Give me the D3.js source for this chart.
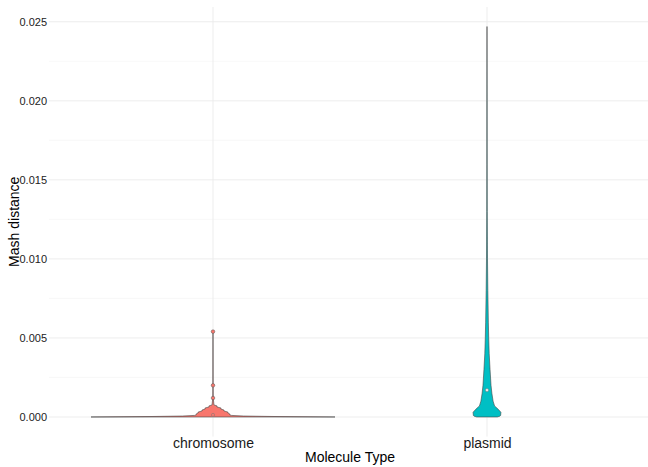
<!DOCTYPE html>
<html>
<head>
<meta charset="utf-8">
<script src="https://cdn.jsdelivr.net/npm/d3@7"></script>
<style>
  body { margin: 0; background: #fff; }
  text { font-family: "Liberation Sans", Arial, sans-serif; }
</style>
</head>
<body>
<div id="vis"></div>
<script>
// categories
var categories = ["chromosome", "plasmid"]
var colors = ["#F8766D", "#00BFC4"]

// violin outlines: value -> relative density (chromosome peak = 1)
var chromValues  = [0, 0.00003, 0.00006, 0.0001, 0.00013, 0.00019, 0.00025, 0.00031, 0.00038, 0.00044, 0.0005, 0.00057, 0.00063, 0.0007, 0.00076, 0.0012, 0.002, 0.0054]
var chromDensity = [1.0, 0.5, 0.25, 0.15, 0.138, 0.138, 0.122, 0.122, 0.09, 0.09, 0.065, 0.065, 0.033, 0.033, 0.008, 0.002, 0.001, 0.0005]

var plasValues  = [0, 0.00005, 0.0001, 0.0003, 0.0005, 0.0007, 0.001, 0.0015, 0.002, 0.003, 0.004, 0.005, 0.006, 0.008, 0.01, 0.013, 0.016, 0.02, 0.0247]
var plasDensity = [0.085, 0.105, 0.112, 0.114, 0.09, 0.062, 0.05, 0.04, 0.033, 0.025, 0.018, 0.014, 0.011, 0.007, 0.004, 0.002, 0.0012, 0.0008, 0]

// extra points
var chromOutliers = [0.0054, 0.002, 0.0012]
var medians = [0.00013, 0.0017]

var yTicks = [0, 0.005, 0.01, 0.015, 0.02, 0.025]
var yMinor = [0.0025, 0.0075, 0.0125, 0.0175, 0.0225]

var width = 648, height = 467
var pLeft = 49, pRight = 651, pTop = 7, pBottom = 436.5

var x = d3.scalePoint()
  .domain(categories)
  .range([213, 487])

var y = d3.scaleLinear()
  .domain([-0.001235, 0.025935])
  .range([pBottom, pTop])

var w = d3.scaleLinear()
  .domain([0, 1])
  .range([0, 122])

var svg = d3.select("#vis")
  .append("svg")
  .attr("width", width)
  .attr("height", height)

// grid
svg.selectAll(".minor").data(yMinor).enter().append("line")
  .attr("x1", pLeft).attr("x2", pRight)
  .attr("y1", d => y(d)).attr("y2", d => y(d))
  .style("stroke", "#f4f4f4").style("stroke-width", "0.6px")

svg.selectAll(".major").data(yTicks).enter().append("line")
  .attr("x1", pLeft).attr("x2", pRight)
  .attr("y1", d => y(d)).attr("y2", d => y(d))
  .style("stroke", "#ebebeb").style("stroke-width", "0.9px")

svg.selectAll(".vgrid").data(categories).enter().append("line")
  .attr("x1", d => x(d)).attr("x2", d => x(d))
  .attr("y1", pTop).attr("y2", pBottom)
  .style("stroke", "#ebebeb").style("stroke-width", "0.9px")

// violins
function violin(vals, dens, cat, color) {
  var pts = vals.map((v, i) => [v, dens[i]])
  var area = d3.area()
    .y(d => y(d[0]))
    .x0(d => x(cat) - w(d[1]))
    .x1(d => x(cat) + w(d[1]))
  svg.append("path")
    .datum(pts)
    .attr("d", area)
    .style("fill", color)
    .style("stroke", "#444")
    .style("stroke-width", "0.6px")
}
violin(chromValues, chromDensity, "chromosome", colors[0])
violin(plasValues, plasDensity, "plasmid", colors[1])

// outlier points
svg.selectAll(".out").data(chromOutliers).enter().append("circle")
  .attr("cx", x("chromosome"))
  .attr("cy", d => y(d))
  .attr("r", 1.8)
  .style("fill", colors[0])
  .style("stroke", "#555")
  .style("stroke-width", "0.5px")

svg.selectAll(".med").data(medians).enter().append("circle")
  .attr("cx", (d, i) => x(categories[i]))
  .attr("cy", d => y(d))
  .attr("r", 1.6)
  .style("fill", (d, i) => i == 0 ? colors[0] : "#eee")
  .style("stroke", "#777")
  .style("stroke-width", "0.5px")

// axes text
var yAxis = svg.append("g")
  .attr("transform", `translate(${pLeft - 2},0)`)
  .call(d3.axisLeft(y).tickValues(yTicks).tickFormat(d3.format(".3f")).tickSize(0).tickPadding(0))
yAxis.select(".domain").remove()
yAxis.selectAll("text")
  .style("font-size", "11px")
  .attr("fill", "#222")

var xAxis = svg.append("g")
  .attr("transform", `translate(0,${pBottom})`)
  .call(d3.axisBottom(x).tickSize(0).tickPadding(2))
xAxis.select(".domain").remove()
xAxis.selectAll("text")
  .style("font-size", "14px")
  .attr("fill", "#1a1a1a")

svg.append("text")
  .attr("x", 350).attr("y", 462)
  .style("text-anchor", "middle")
  .style("font-size", "14px")
  .text("Molecule Type")

svg.append("text")
  .attr("transform", `translate(19,${(pTop + pBottom) / 2}) rotate(-90)`)
  .style("text-anchor", "middle")
  .style("font-size", "14px")
  .text("Mash distance")
</script>
</body>
</html>
